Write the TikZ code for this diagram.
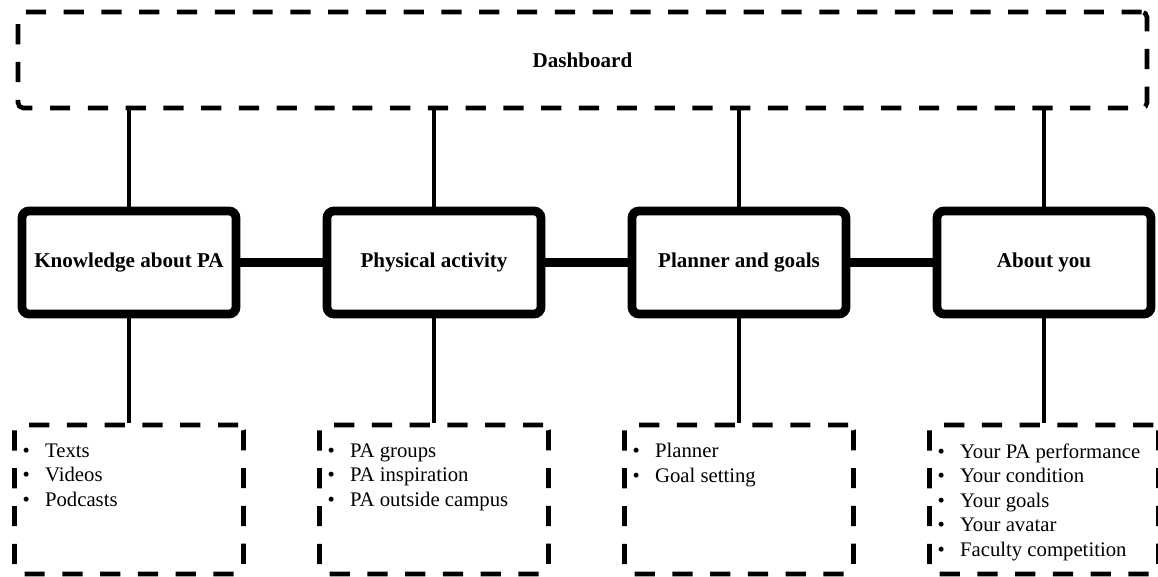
\documentclass[tikz,border=0pt]{standalone}
\usepackage{fontspec}
\setmainfont{Liberation Serif}
\usetikzlibrary{positioning}
\newcommand{\pitem}[1]{\makebox[0.45cm][l]{\textbullet}#1}

\begin{document}
\begin{tikzpicture}[node distance=6.1cm,
  dashbox/.style={draw, dash pattern=on 11.5pt off 10pt, line width=2.6pt, rounded corners=3pt},
  mainbox/.style={draw, line width=5pt, rounded corners=4pt, minimum width=4.28cm,
    minimum height=2.06cm, font=\fontsize{12}{14}\selectfont\bfseries},
  listbox/.style={dashbox, minimum width=4.58cm, minimum height=2.98cm},
  listtext/.style={inner sep=0pt, align=left, font=\fontsize{11.8}{14}\selectfont},
  linkv/.style={line width=2.3pt},
  linkh/.style={line width=5.6pt}]

  \useasboundingbox (0,0) rectangle (23.16,-11.52);

  %% Dashboard
  \node[dashbox, minimum width=22.58cm, minimum height=1.92cm,
    font=\fontsize{12}{14}\selectfont\bfseries] (dash) at (11.65,-1.2) {Dashboard};

  %% Main boxes
  \node[mainbox] (know)                    at (2.58,-5.25) {Knowledge about PA};
  \node[mainbox] (phys)  [right of=know]                   {Physical activity};
  \node[mainbox] (plan)  [right of=phys]                   {Planner and goals};
  \node[mainbox] (about) [right of=plan]                   {About you};

  %% Lower boxes
  \node[listbox] (knowl)  [below of=know,  node distance=4.74cm] {};
  \node[listbox] (physl)  [below of=phys,  node distance=4.74cm] {};
  \node[listbox] (planl)  [below of=plan,  node distance=4.74cm] {};
  \node[listbox] (aboutl) [below of=about, node distance=4.74cm] {};

  %% Lists
  \node[listtext] (knowt)  [below right=0.41cm and 0.2cm of knowl.north west]
    {\pitem{Texts}\\\pitem{Videos}\\\pitem{Podcasts}};
  \node[listtext] (physt)  [below right=0.41cm and 0.2cm of physl.north west]
    {\pitem{PA groups}\\\pitem{PA inspiration}\\\pitem{PA outside campus}};
  \node[listtext] (plant)  [below right=0.41cm and 0.2cm of planl.north west]
    {\pitem{Planner}\\\pitem{Goal setting}};
  \node[listtext] (aboutt) [below right=0.41cm and 0.2cm of aboutl.north west]
    {\pitem{Your PA performance}\\\pitem{Your condition}\\\pitem{Your goals}\\
     \pitem{Your avatar}\\\pitem{Faculty competition}};

  %% Dashboard links
  \path[linkv]
    (know.north)  edge (know.north  |- dash.south)
    (phys.north)  edge (phys.north  |- dash.south)
    (plan.north)  edge (plan.north  |- dash.south)
    (about.north) edge (about.north |- dash.south);

  %% Lower links
  \path[linkv]
    (know.south)  edge (know.south  |- knowl.north)
    (phys.south)  edge (phys.south  |- physl.north)
    (plan.south)  edge (plan.south  |- planl.north)
    (about.south) edge (about.south |- aboutl.north);

  %% Main links
  \path[linkh]
    (know) edge (phys)
    (phys) edge (plan)
    (plan) edge (about);
\end{tikzpicture}
\end{document}
